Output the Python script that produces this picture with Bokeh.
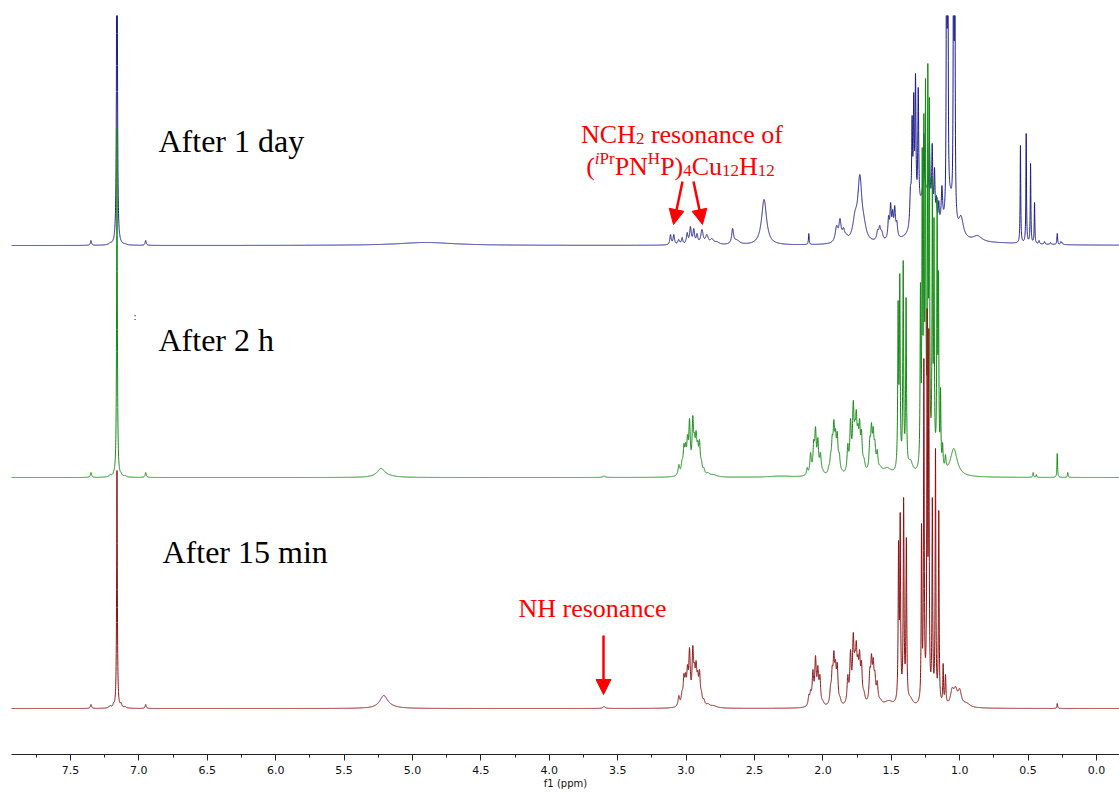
import numpy as np
from bokeh.plotting import figure
from bokeh.models import Range1d, Label, Arrow, NormalHead, FixedTicker, NumeralTickFormatter
from bokeh.embed import file_html
from bokeh.resources import INLINE

# ---------------- data ----------------
# peak tables: [chemical shift (ppm), observed height (px above baseline), half width (ppm)]
blue_peaks = [  # After 1 day
    [7.35, 5, .005], [7.21, 3, .01], [7.185, 6, .004], [7.16, 500, .003], [7.13, 4, .006], [7.10, 2, .01], [6.95, 5, .005],
    [4.90, 3, .25],
    [3.114, 11, .006], [3.090, 11, .006], [3.054, 6, .008], [3.029, 8, .006], [2.992, 13, .007], [2.968, 19, .007],
    [2.944, 17, .007], [2.920, 12, .007], [2.884, 16, .01], [2.848, 11, .012], [2.811, 7, .015], [2.775, 4, .02],
    [2.66, 17, .008], [2.63, 6, .025], [2.43, 46, .022], [2.103, 12, .003],
    [1.90, 20, .012], [1.875, 27, .01], [1.85, 18, .01], [1.83, 12, .015],
    [1.765, 35, .02], [1.73, 71, .018], [1.70, 30, .02],
    [1.60, 16, .008], [1.585, 20, .008], [1.57, 15, .01],
    [1.52, 30, .006], [1.505, 43, .006], [1.49, 36, .006], [1.475, 40, .006], [1.46, 25, .007],
    [1.36, 60, .006], [1.348, 130, .004], [1.336, 153, .004], [1.323, 172, .004], [1.303, 158, .004],
    [1.262, 112, .004], [1.25, 62, .06], [1.221, 103, .004], [1.201, 102, .004], [1.184, 78, .004],
    [1.17, 50, .004], [1.153, 45, .004], [1.13, 60, .006],
    [1.096, 450, .0025], [1.087, 450, .0025], [1.07, 60, .03], [1.045, 430, .0025], [1.036, 430, .0025],
    [0.99, 30, .02], [0.87, 10, .04], [0.70, 3, .3],
    [0.556, 100, .0025], [0.514, 112, .0025], [0.482, 82, .0025], [0.453, 43, .0025],
    [0.42, 5, .004], [0.38, 4, .004], [0.336, 3, .004], [0.287, 12, .003], [0.26, 4, .004], [0.25, 3, .004],
]

green_peaks = [  # After 2 h
    [7.35, 5, .005], [7.21, 3, .01], [7.185, 6, .004], [7.16, 349, .003], [7.13, 5, .006], [7.10, 2, .01], [6.95, 5, .005],
    [5.23, 9, .035], [5.17, 3, .06], [3.60, 1.5, .01],
    [3.053, 13, .007], [3.03, 18, .007], [3.016, 34, .0065], [3.004, 35, .0065], [2.990, 43, .0065], [2.975, 59, .0065],
    [2.951, 62, .0065], [2.939, 45, .0065], [2.927, 47, .0065], [2.915, 37, .0065], [2.902, 38, .0065], [2.888, 18, .007],
    [2.87, 10, .008], [2.84, 5, .015], [2.80, 3, .03], [2.31, 1.5, .1],
    [2.115, 10, .006], [2.09, 25, .0065], [2.067, 38, .0065], [2.054, 51, .0065], [2.037, 40, .0065], [2.018, 25, .007], [2.00, 8, .01],
    [1.957, 12, .007], [1.944, 24, .0065], [1.932, 43, .0065], [1.92, 58, .0065], [1.908, 49, .0065], [1.895, 46, .0065],
    [1.88, 25, .007], [1.86, 8, .01],
    [1.818, 34, .0065], [1.798, 59, .0065], [1.778, 77, .0065], [1.766, 58, .0065], [1.756, 68, .0065], [1.744, 54, .0065],
    [1.732, 59, .0065], [1.718, 48, .0065], [1.70, 20, .01],
    [1.657, 41, .0065], [1.645, 55, .0065], [1.632, 51, .0065], [1.62, 38, .0065], [1.603, 28, .007], [1.58, 12, .015],
    [1.53, 10, .04],
    [1.45, 177, .0035], [1.438, 204, .0035], [1.413, 217, .0035], [1.392, 180, .0035], [1.36, 18, .02],
    [1.287, 195, .003], [1.274, 330, .003], [1.262, 364, .003], [1.25, 399, .003], [1.233, 414, .003],
    [1.222, 380, .003], [1.20, 300, .003], [1.188, 260, .003], [1.165, 280, .003], [1.155, 207, .003],
    [1.14, 90, .003], [1.125, 35, .004], [1.104, 23, .005], [1.043, 29, .03],
    [0.463, 5, .003], [0.44, 3, .003], [0.287, 24, .0025], [0.21, 5, .003],
]

red_peaks = [  # After 15 min
    [7.35, 4, .005], [7.21, 3, .01], [7.185, 6, .004], [7.16, 238, .003], [7.13, 6, .006], [7.10, 2, .01], [6.95, 4, .005],
    [5.21, 13, .035], [5.15, 4, .06], [3.60, 2, .01],
    [3.053, 13, .007], [3.03, 18, .007], [3.016, 35, .0065], [3.004, 36, .0065], [2.990, 44, .0065], [2.975, 61, .0065],
    [2.951, 63, .0065], [2.939, 46, .0065], [2.927, 48, .0065], [2.915, 38, .0065], [2.902, 39, .0065], [2.888, 18, .007],
    [2.87, 10, .008], [2.84, 5, .015], [2.80, 3, .03],
    [2.103, 14, .006], [2.09, 19, .0065], [2.073, 39, .0065], [2.054, 53, .0065], [2.037, 43, .0065], [2.022, 34, .0065], [2.00, 8, .01],
    [1.944, 24, .0065], [1.932, 43, .0065], [1.92, 58, .0065], [1.908, 49, .0065], [1.895, 46, .0065], [1.875, 12, .008],
    [1.818, 34, .0065], [1.798, 59, .0065], [1.778, 76, .0065], [1.766, 58, .0065], [1.756, 68, .0065], [1.744, 54, .0065],
    [1.732, 59, .0065], [1.718, 48, .0065], [1.70, 18, .01],
    [1.657, 41, .0065], [1.645, 55, .0065], [1.632, 51, .0065], [1.62, 38, .0065], [1.603, 28, .007], [1.58, 10, .015],
    [1.52, 8, .04],
    [1.447, 168, .0035], [1.435, 196, .0035], [1.41, 211, .0035], [1.39, 171, .0035], [1.36, 12, .02],
    [1.279, 185, .003], [1.262, 350, .003], [1.238, 400, .003], [1.226, 380, .003], [1.20, 211, .003],
    [1.177, 260, .003], [1.153, 198, .003], [1.121, 45, .003], [1.104, 34, .004],
    [1.055, 21, .015], [1.03, 22, .015], [1.0, 20, .015], [0.95, 6, .03],
    [0.287, 5, .003],
]

trace_labels = ["After 1 day", "After 2 h", "After 15 min"]
major_ticks = [0.0, 0.5, 1.0, 1.5, 2.0, 2.5, 3.0, 3.5, 4.0, 4.5, 5.0, 5.5, 6.0, 6.5, 7.0, 7.5]
minor_ticks = [0.25, 0.75, 1.25, 1.75, 2.25, 2.75, 3.25, 3.75, 4.25, 4.75, 5.25, 5.75, 6.25, 6.75, 7.25, 7.75]

# ---------------- layout / style ----------------
W, H = 1119, 794
FRAME_L, FRAME_T, FRAME_B = 11, 15, 754
PPM_LEFT, PPM_RIGHT = 7.931, -0.168
offsets = [509, 277, 46]          # baselines of the stacked traces
colors = ["#1c1c8e", "#148a14", "#8b1111"]


def px2ppm(px):
    return PPM_LEFT - (px - FRAME_L) * (PPM_LEFT - PPM_RIGHT) / (W - FRAME_L)


def py2y(py):
    return FRAME_B - py


grid = np.arange(PPM_RIGHT - 0.002, PPM_LEFT + 0.002, 0.0005)


def spectrum(peaks):
    arr = np.array(peaks, float)
    pos, h, w = arr[:, 0], arr[:, 1], arr[:, 2]
    A = 1.0 / (1.0 + ((pos[:, None] - pos[None, :]) / w[None, :]) ** 2)
    amp = h.copy()
    for _ in range(300):
        amp = amp * h / np.maximum(A @ amp, 1e-9)
    out = np.zeros_like(grid)
    for p0, a, w0 in zip(pos, amp, w):
        out += a / (1.0 + ((grid - p0) / w0) ** 2)
    return out


p = figure(width=W, height=H, x_range=Range1d(PPM_LEFT, PPM_RIGHT), y_range=Range1d(0, FRAME_B - FRAME_T),
           output_backend="svg", toolbar_location=None, y_axis_location=None,
           min_border_left=FRAME_L, min_border_right=0, min_border_top=FRAME_T, min_border_bottom=H - FRAME_B)
p.xgrid.visible = False
p.ygrid.visible = False
p.outline_line_color = None
p.background_fill_color = "white"
p.border_fill_color = "white"

for peaks, off, col in zip([blue_peaks, green_peaks, red_peaks], offsets, colors):
    y = off + spectrum(peaks)
    y = np.minimum(y, 900)
    p.line(grid, y, line_color=col, line_width=1)

ax = p.xaxis[0]
ax.ticker = FixedTicker(ticks=major_ticks, minor_ticks=minor_ticks)
ax.formatter = NumeralTickFormatter(format="0.0")
ax.axis_label = "f1 (ppm)"
ax.axis_label_text_font = "DejaVu Sans"
ax.axis_label_text_font_size = "10px"
ax.axis_label_text_font_style = "normal"
ax.axis_label_text_color = "#111111"
ax.axis_label_standoff = 1
ax.major_label_text_font = "DejaVu Sans"
ax.major_label_text_font_size = "11px"
ax.major_label_text_color = "#111111"
ax.major_label_standoff = 5
ax.major_tick_in = 0
ax.major_tick_out = 6
ax.minor_tick_in = 0
ax.minor_tick_out = 3
ax.axis_line_color = "#222222"
ax.major_tick_line_color = "#222222"
ax.minor_tick_line_color = "#222222"

# trace labels
for txt, (lx, ly) in zip(trace_labels, [(158, 140), (158, 339), (162, 551)]):
    p.add_layout(Label(x=px2ppm(lx), y=py2y(ly), text=txt, text_font="Liberation Serif",
                       text_font_size="32px", text_color="black", text_baseline="alphabetic"))
p.add_layout(Label(x=px2ppm(133), y=py2y(316), text=":", text_font="DejaVu Sans",
                   text_font_size="9px", text_color="black", text_baseline="alphabetic"))

# red annotations built from pieces (sub/superscripts)
TW = {'N': .722, 'C': .667, 'H': .722, 'P': .556, 'u': .5, '(': .333, ')': .333, ' ': .25, 'r': .333,
      'e': .444, 's': .389, 'o': .5, 'n': .5, 'a': .444, 'c': .444, 'f': .333, '1': .5, '2': .5, '4': .5, 'i': .278}
RED = "#ff0000"


def rich_line(pieces, cx, base):
    widths = [sum(TW[c] for c in t) * s for t, s, _, _ in pieces]
    x = cx - sum(widths) / 2.0
    for (t, s, dy, style), w in zip(pieces, widths):
        lead = len(t) - len(t.lstrip(" "))
        p.add_layout(Label(x=px2ppm(x + lead * TW[' '] * s), y=py2y(base - dy), text=t.strip(" "),
                           text_font="Liberation Serif", text_font_size=f"{s}px", text_font_style=style,
                           text_color=RED, text_baseline="alphabetic"))
        x += w


rich_line([("NCH", 26, 0, "normal"), ("2", 17, -4, "normal"), (" resonance of", 26, 0, "normal")], 681.5, 134)
rich_line([("(", 26, 0, "normal"), ("i", 17, 8, "italic"), ("Pr", 17, 8, "normal"), ("PN", 26, 0, "normal"),
           ("H", 17, 8, "normal"), ("P)", 26, 0, "normal"), ("4", 17, -4, "normal"), ("Cu", 26, 0, "normal"),
           ("12", 17, -4, "normal"), ("H", 26, 0, "normal"), ("12", 17, -4, "normal")], 680, 166)
p.add_layout(Label(x=px2ppm(518), y=py2y(608), text="NH resonance", text_font="Liberation Serif",
                   text_font_size="26px", text_color=RED, text_baseline="alphabetic"))

for (x0, y0, x1, y1) in [(682, 181, 673, 224), (693, 181, 702, 224), (603, 635, 603, 694)]:
    p.add_layout(Arrow(end=NormalHead(size=15, fill_color=RED, line_color=RED, line_width=1),
                       x_start=px2ppm(x0), y_start=py2y(y0), x_end=px2ppm(x1), y_end=py2y(y1),
                       line_color=RED, line_width=2.5))

open("out.html", "w").write(file_html(p, INLINE))
